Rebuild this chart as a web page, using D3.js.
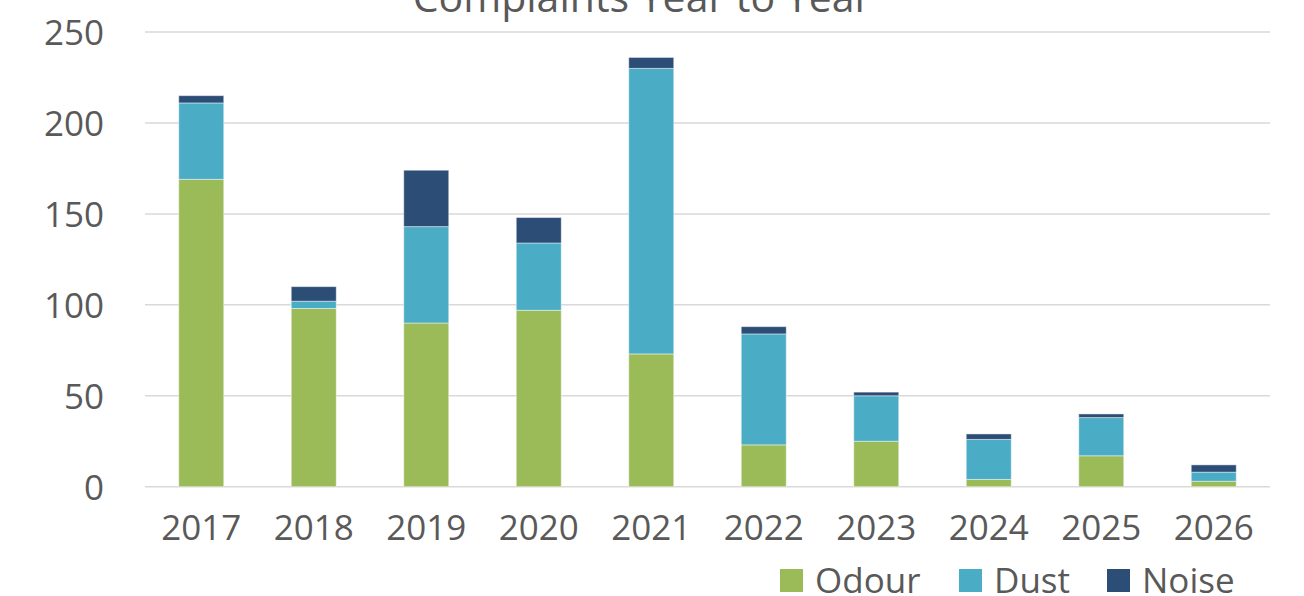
<!DOCTYPE html>
<html><head><meta charset="utf-8">
<script src="https://cdn.jsdelivr.net/npm/d3@7"></script>
<style>html,body{margin:0;padding:0;background:#fff;}svg{display:block;font-family:"Open Sans",sans-serif;}</style>
</head><body>
<script>
const years = ["2017","2018","2019","2020","2021","2022","2023","2024","2025","2026"];
const odour = [169, 98, 90, 97, 73, 23, 25, 4, 17, 3];
const dust  = [42, 4, 53, 37, 157, 61, 25, 22, 21, 5];
const noise = [4, 8, 31, 14, 6, 4, 2, 3, 2, 4];
const seriesNames = ["Odour","Dust","Noise"];
const colors = ["#9BBB59","#4BACC6","#2C4D75"];
const yTicks = [0,50,100,150,200,250];
const title = "Complaints Year to Year";

const W = 1304, H = 596;
const svg = d3.select("body").append("svg").attr("width", W).attr("height", H);
const x = d3.scaleBand().domain(years).range([145, 1270]).paddingInner(0.6).paddingOuter(0.3);
const y = d3.scaleLinear().domain([0, 250]).range([486.7, 32]);

// gridlines
svg.append("g").selectAll("line").data(yTicks).join("line")
  .attr("x1", 145).attr("x2", 1270)
  .attr("y1", d => y(d)).attr("y2", d => y(d))
  .attr("stroke", "#D9D9D9").attr("stroke-width", 1.5);

// y labels
const yAxis = d3.axisLeft(y).tickValues(yTicks).tickSize(0).tickPadding(0);
const gy = svg.append("g").attr("transform", "translate(104,0)").call(yAxis);
gy.select(".domain").remove();
gy.selectAll("text").attr("fill", "#595959").style("font-size", "35px").style("font-family", "'Open Sans',sans-serif").attr("dy", "0.36em");

// stacked bars
const rows = years.map((yr, i) => ({year: yr, Odour: odour[i], Dust: dust[i], Noise: noise[i]}));
const stack = d3.stack().keys(seriesNames)(rows);
svg.append("g").selectAll("g").data(stack).join("g")
  .attr("fill", (d, i) => colors[i])
  .selectAll("rect").data(d => d).join("rect")
  .attr("x", d => x(d.data.year))
  .attr("width", x.bandwidth())
  .attr("y", d => y(d[1]))
  .attr("height", d => y(d[0]) - y(d[1]))
  .attr("stroke", "rgba(255,255,255,0.45)").attr("stroke-width", 1);

// x labels
const xAxis = d3.axisBottom(x).tickSize(0).tickPadding(0);
const gx = svg.append("g").attr("transform", "translate(0,515)").call(xAxis);
gx.select(".domain").remove();
gx.selectAll("text").attr("fill", "#595959").style("font-size", "35px").style("font-family", "'Open Sans',sans-serif").attr("dy", "0.71em");

// title (cut off at top, as in the reference)
svg.append("text").attr("x", 642).attr("y", 12).attr("text-anchor", "middle")
  .attr("fill", "#595959").style("font-size", "41px").text(title);

// legend
const legX = [780, 959, 1107];
const lg = svg.append("g").selectAll("g").data(seriesNames).join("g")
  .attr("transform", (d, i) => `translate(${legX[i]},0)`);
lg.append("rect").attr("x", 0).attr("y", 569).attr("width", 23).attr("height", 23).attr("fill", (d, i) => colors[i]);
lg.append("text").attr("x", 35).attr("y", 593).attr("fill", "#595959").style("font-size", "35px").text(d => d);
</script>
</body></html>
